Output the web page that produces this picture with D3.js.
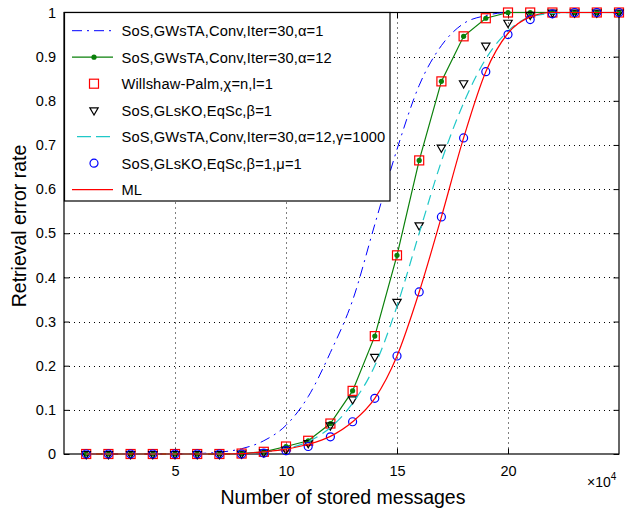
<!DOCTYPE html>
<html>
<head>
<meta charset="utf-8">
<script src="https://cdn.jsdelivr.net/npm/d3@7"></script>
<style>
  body { margin: 0; background: #fff; }
  svg text { font-family: "Liberation Sans", Arial, sans-serif; fill: #000; }
</style>
</head>
<body>
<svg id="chart" width="627" height="508"></svg>
<script>
// stored messages (x 10^4)
const messages = [1, 2, 3, 4, 5, 6, 7, 8, 9, 10, 11, 12, 13, 14, 15, 16, 17, 18, 19, 20, 21, 22, 23, 24, 25];

// retrieval error rate per series
const gwstaAlpha1  = [0, 0, 0, 0, 0, 0.001, 0.004, 0.012, 0.03, 0.065, 0.13, 0.23, 0.348, 0.52, 0.69, 0.835, 0.925, 0.975, 0.993, 1, 1, 1, 1, 1, 1];
const gwstaAlpha12 = [0, 0, 0, 0, 0, 0, 0, 0.001, 0.005, 0.017, 0.03, 0.069, 0.143, 0.267, 0.45, 0.665, 0.844, 0.946, 0.987, 1, 1, 1, 1, 1, 1];
const willshaw     = [0, 0, 0, 0, 0, 0, 0, 0.001, 0.005, 0.017, 0.03, 0.069, 0.143, 0.267, 0.45, 0.665, 0.844, 0.946, 0.987, 1, 1, 1, 1, 1, 1];
const glskoBeta1   = [0, 0, 0, 0, 0, 0, 0, 0.001, 0.004, 0.01, 0.025, 0.065, 0.124, 0.22, 0.345, 0.518, 0.694, 0.84, 0.925, 0.977, 0.995, 1, 1, 1, 1];
const gwstaGamma   = [0, 0, 0, 0, 0, 0, 0, 0.001, 0.004, 0.012, 0.028, 0.06, 0.115, 0.2, 0.335, 0.5, 0.663, 0.795, 0.895, 0.958, 0.99, 0.998, 1, 1, 1];
const glskoMu1     = [0, 0, 0, 0, 0, 0, 0, 0, 0.002, 0.0075, 0.017, 0.039, 0.073, 0.126, 0.222, 0.367, 0.537, 0.716, 0.866, 0.95, 0.984, 0.997, 1, 1, 1];
const mlBound      = [0, 0, 0, 0, 0, 0, 0, 0.001, 0.005, 0.011, 0.022, 0.04, 0.073, 0.126, 0.222, 0.367, 0.537, 0.716, 0.866, 0.953, 0.99, 1, 1, 1, 1];

const xTicks = [5, 10, 15, 20];
const yTicks = [0, 0.1, 0.2, 0.3, 0.4, 0.5, 0.6, 0.7, 0.8, 0.9, 1];

const legendLabels = [
  'SoS,GWsTA,Conv,Iter=30,\u03b1=1',
  'SoS,GWsTA,Conv,Iter=30,\u03b1=12',
  'Willshaw-Palm,\u03c7=n,l=1',
  'SoS,GLsKO,EqSc,\u03b2=1',
  'SoS,GWsTA,Conv,Iter=30,\u03b1=12,\u03b3=1000',
  'SoS,GLsKO,EqSc,\u03b2=1,\u03bc=1',
  'ML'
];

const BLUE = '#0000ff', GREEN = '#0a800a', RED = '#ff0000', CYAN = '#20c8c8';

const svg = d3.select('#chart');
const plot = { left: 64, right: 619, top: 12.5, bottom: 454 };

const x = d3.scaleLinear().domain([0, 25]).range([plot.left, plot.right]);
const y = d3.scaleLinear().domain([0, 1]).range([plot.bottom, plot.top]);

// grid
const grid = svg.append('g').attr('stroke', '#000').attr('stroke-width', 1)
  .attr('stroke-dasharray', '1,4');
xTicks.forEach(t => grid.append('line')
  .attr('x1', Math.round(x(t)) + 0.5).attr('x2', Math.round(x(t)) + 0.5)
  .attr('y1', plot.top).attr('y2', plot.bottom));
yTicks.slice(1, -1).forEach(t => grid.append('line')
  .attr('y1', Math.round(y(t)) + 0.5).attr('y2', Math.round(y(t)) + 0.5)
  .attr('x1', plot.left).attr('x2', plot.right));

// axes with inward ticks (matlab style)
const tickLen = 5.5;
const bottomAxis = svg.append('g').attr('transform', `translate(0,${plot.bottom})`)
  .call(d3.axisBottom(x).tickValues(xTicks).tickSize(-tickLen).tickPadding(12).tickFormat(d3.format('d')));
const topAxis = svg.append('g').attr('transform', `translate(0,${plot.top})`)
  .call(d3.axisTop(x).tickValues(xTicks).tickSize(-tickLen).tickFormat(''));
const leftAxis = svg.append('g').attr('transform', `translate(${plot.left},0)`)
  .call(d3.axisLeft(y).tickValues(yTicks).tickSize(-tickLen).tickPadding(8)
    .tickFormat(d => d === 0 || d === 1 ? d3.format('d')(d) : d3.format('.1f')(d)));
const rightAxis = svg.append('g').attr('transform', `translate(${plot.right},0)`)
  .call(d3.axisRight(y).tickValues(yTicks).tickSize(-tickLen).tickFormat(''));
[bottomAxis, topAxis, leftAxis, rightAxis].forEach(a => {
  a.select('.domain').remove();
  a.selectAll('line').attr('stroke', '#000');
  a.selectAll('text').style('font-family', '"Liberation Sans", Arial, sans-serif')
    .style('font-size', '14.5px').attr('fill', '#000');
});
svg.append('rect')
  .attr('x', plot.left).attr('y', plot.top)
  .attr('width', plot.right - plot.left).attr('height', plot.bottom - plot.top)
  .attr('fill', 'none').attr('stroke', '#000').attr('stroke-width', 1.2);

// series
const data = arr => messages.map((m, i) => [m, arr[i]]);
const smooth = d3.line().x(d => x(d[0])).y(d => y(d[1])).curve(d3.curveMonotoneX);
const straight = d3.line().x(d => x(d[0])).y(d => y(d[1]));
const series = svg.append('g');

series.append('path').attr('d', smooth(data(gwstaAlpha1)))
  .attr('fill', 'none').attr('stroke', BLUE).attr('stroke-width', 1)
  .attr('stroke-dasharray', '10,5,2,5');

series.append('path').attr('d', straight(data(gwstaAlpha12)))
  .attr('fill', 'none').attr('stroke', GREEN).attr('stroke-width', 1.2);
series.selectAll('.dot').data(data(gwstaAlpha12)).enter().append('circle')
  .attr('cx', d => x(d[0])).attr('cy', d => y(d[1])).attr('r', 2.6).attr('fill', GREEN);

series.selectAll('.sq').data(data(willshaw)).enter().append('rect')
  .attr('x', d => x(d[0]) - 4.5).attr('y', d => y(d[1]) - 4.5)
  .attr('width', 9).attr('height', 9)
  .attr('fill', 'none').attr('stroke', RED).attr('stroke-width', 1.2);

const tri = d3.symbol().type(d3.symbolTriangle).size(30);
series.selectAll('.tri').data(data(glskoBeta1)).enter().append('path')
  .attr('d', tri)
  .attr('transform', d => `translate(${x(d[0])},${y(d[1])}) rotate(180)`)
  .attr('fill', 'none').attr('stroke', '#000').attr('stroke-width', 1.2);

series.append('path').attr('d', smooth(data(gwstaGamma)))
  .attr('fill', 'none').attr('stroke', CYAN).attr('stroke-width', 1.2)
  .attr('stroke-dasharray', '10,6');

series.selectAll('.ring').data(data(glskoMu1)).enter().append('circle')
  .attr('cx', d => x(d[0])).attr('cy', d => y(d[1])).attr('r', 4)
  .attr('fill', 'none').attr('stroke', BLUE).attr('stroke-width', 1.2);

series.append('path').attr('d', smooth(data(mlBound)))
  .attr('fill', 'none').attr('stroke', RED).attr('stroke-width', 1.2);

// legend
const legend = svg.append('g');
legend.append('rect')
  .attr('x', 64.5).attr('y', 12.5).attr('width', 325.5).attr('height', 188.5)
  .attr('fill', '#fff').attr('stroke', '#000').attr('stroke-width', 1.2);
const rowY = i => 30.7 + i * 26.5;
const sx0 = 72, sx1 = 113, sxm = 94;
const rows = legend.selectAll('.row').data(legendLabels).enter().append('g')
  .attr('transform', (d, i) => `translate(0,${rowY(i)})`);
rows.append('text').attr('x', 121.5).attr('y', 5.5)
  .style('font-size', '14.7px').style('letter-spacing', '0.12px').text(d => d);

const sample = i => legend.append('g').attr('transform', `translate(0,${rowY(i)})`);
sample(0).append('line').attr('x1', sx0).attr('x2', sx1).attr('stroke', BLUE)
  .attr('stroke-dasharray', '10,5,2,5');
const g1 = sample(1);
g1.append('line').attr('x1', sx0).attr('x2', sx1).attr('stroke', GREEN).attr('stroke-width', 1.2);
g1.append('circle').attr('cx', sxm).attr('r', 2.6).attr('fill', GREEN);
sample(2).append('rect').attr('x', sxm - 4.5).attr('y', -4.5).attr('width', 9).attr('height', 9)
  .attr('fill', 'none').attr('stroke', RED).attr('stroke-width', 1.2);
sample(3).append('path').attr('d', tri).attr('transform', `translate(${sxm},0) rotate(180)`)
  .attr('fill', 'none').attr('stroke', '#000').attr('stroke-width', 1.2);
sample(4).append('line').attr('x1', sx0 + 5).attr('x2', sx1).attr('stroke', CYAN)
  .attr('stroke-width', 1.2).attr('stroke-dasharray', '14,5');
sample(5).append('circle').attr('cx', sxm).attr('r', 4)
  .attr('fill', 'none').attr('stroke', BLUE).attr('stroke-width', 1.2);
sample(6).append('line').attr('x1', sx0).attr('x2', sx1).attr('stroke', RED).attr('stroke-width', 1.2);

// axis labels
svg.append('text').attr('x', 343).attr('y', 504).attr('text-anchor', 'middle')
  .style('font-size', '19.5px').text('Number of stored messages');
svg.append('text').attr('transform', 'translate(26,226) rotate(-90)')
  .attr('text-anchor', 'middle').style('font-size', '19.5px').text('Retrieval error rate');
const exp = svg.append('text').attr('x', 587).attr('y', 487).style('font-size', '14px');
exp.append('tspan').text('\u00d710');
exp.append('tspan').attr('dy', -7).style('font-size', '10px').text('4');
</script>
</body>
</html>
